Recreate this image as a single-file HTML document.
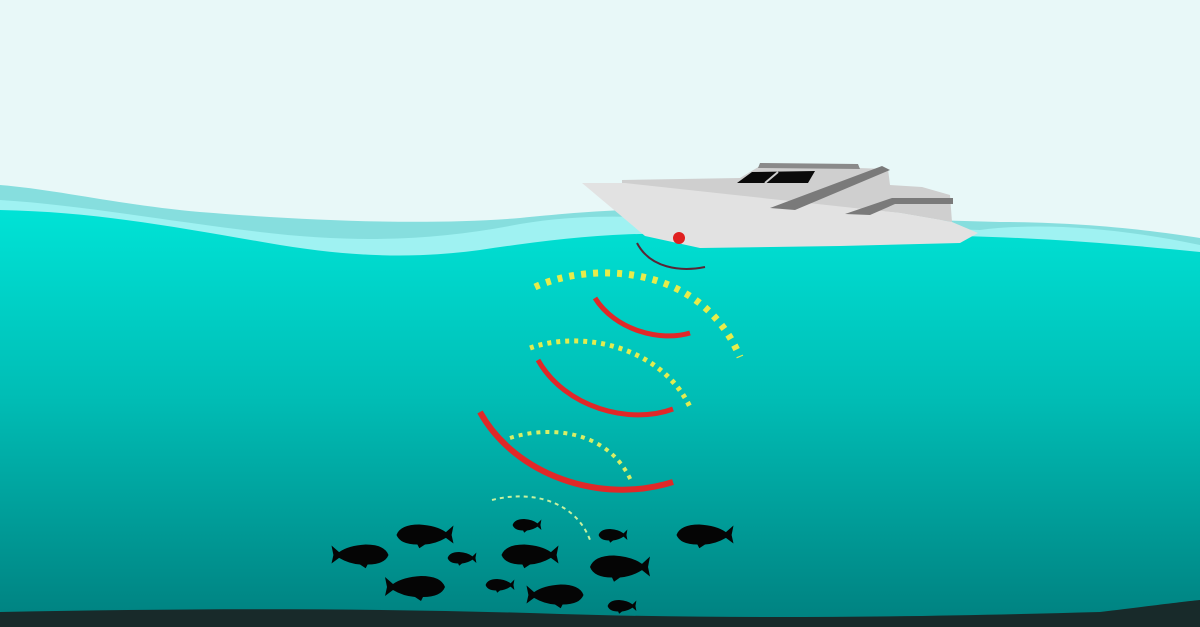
<!DOCTYPE html>
<html><head><meta charset="utf-8"><style>
html,body{margin:0;padding:0;width:1200px;height:627px;overflow:hidden;background:#e8f8f8}
svg{display:block}
</style></head><body>
<svg width="1200" height="627" viewBox="0 0 1200 627">
<defs>
<linearGradient id="water" x1="0" y1="0" x2="0" y2="1">
<stop offset="0" stop-color="#00e3d6"/>
<stop offset="0.45" stop-color="#00bdb5"/>
<stop offset="1" stop-color="#00807f"/>
</linearGradient>
</defs>
<rect x="0" y="0" width="1200" height="627" fill="#e8f8f8"/>
<path fill="#86dede" d="M0,185 C60,190 120,205 200,212 C300,220 420,226 520,218 C600,210 660,206 720,214 L1000,222 C1080,222 1150,230 1200,238 L1200,300 L0,300 Z"/>
<path fill="#9ff2f2" d="M0,200 C80,205 160,220 260,232 C360,244 440,240 520,224 C580,214 640,215 700,222 L980,230 C1040,222 1120,228 1200,245 L1200,300 L0,300 Z"/>
<path fill="url(#water)" d="M0,210 C100,212 180,228 280,245 C360,258 420,258 480,250 C560,238 620,232 690,234 L960,236 C1050,238 1130,245 1200,252 L1200,627 L0,627 Z"/>
<path fill="#182a2a" d="M0,612 C200,608 380,608 560,614 C760,620 950,616 1100,612 C1150,606 1180,602 1200,600 L1200,627 L0,627 Z"/>
<g>
<path fill="#cfcfcf" d="M622,180 L740,178 L760,166 L858,168 L888,169 L890,185 L922,187 L950,195 L952,222 L900,213 L735,196 L622,190 Z"/>
<path fill="#8a8a8a" d="M760,163 L858,164 L860,169 L758,168 Z"/>
<path fill="#0a0a0a" d="M737,183 L752,172 L815,171 L808,183 Z"/>
<path stroke="#cfcfcf" stroke-width="2" d="M765,183 L778,172"/>
<path fill="#e2e2e2" d="M582,183 L625,183 L735,195 L900,213 L952,222 L978,233 L960,243 L840,246 L700,248 L645,236 Z"/>
<path fill="#7a7a7a" d="M770,208 L882,166 L890,170 L795,210 Z"/>
<path fill="#7a7a7a" d="M845,214 L892,198 L953,198 L953,204 L895,204 L870,215 Z"/>
</g>
<circle cx="679" cy="238" r="6" fill="#e02020"/>
<g fill="none" stroke-linecap="butt">
<path stroke="#5a2535" stroke-width="2" d="M637,243 C650,268 680,272 705,267"/>
<path stroke="#e7ec4a" stroke-width="7" stroke-dasharray="5 7" d="M535,287 C590,262 700,262 740,357"/>
<path stroke="#e02828" stroke-width="5" d="M595,298 C615,330 660,342 690,333"/>
<path stroke="#e2ec50" stroke-width="5" stroke-dasharray="4 5" d="M530,348 C580,330 660,345 690,407"/>
<path stroke="#e02828" stroke-width="5" d="M538,360 C565,408 630,425 673,409"/>
<path stroke="#e02828" stroke-width="6" d="M480,412 C515,475 600,505 673,482"/>
<path stroke="#d8ee66" stroke-width="4" stroke-dasharray="4 5" d="M510,438 C550,425 610,430 632,483"/>
<path stroke="#c8f2a0" stroke-width="2" stroke-dasharray="4 4" d="M492,500 C530,490 575,500 590,540"/>
</g>
<defs>
<path id="fish" d="M-30,0 Q-26,-11 -6,-11 Q12,-10 22,-3 L30,-10 L28,0 L30,9 L22,3 Q12,9 0,10 L-6,14 L-8,10 Q-26,10 -30,0 Z"/>
</defs>
<g fill="#050505">
<use href="#fish" transform="translate(360,555) scale(-0.95,0.95)"/>
<use href="#fish" transform="translate(425,535) scale(0.95,0.95)"/>
<use href="#fish" transform="translate(462,558) scale(0.48,0.55)"/>
<use href="#fish" transform="translate(527,525) scale(0.48,0.55)"/>
<use href="#fish" transform="translate(530,555) scale(0.95,0.95)"/>
<use href="#fish" transform="translate(415,587) scale(-1,1)"/>
<use href="#fish" transform="translate(500,585) scale(0.48,0.55)"/>
<use href="#fish" transform="translate(555,595) scale(-0.95,0.95)"/>
<use href="#fish" transform="translate(613,535) scale(0.48,0.55)"/>
<use href="#fish" transform="translate(620,567) scale(1,1.05)"/>
<use href="#fish" transform="translate(622,606) scale(0.48,0.55)"/>
<use href="#fish" transform="translate(705,535) scale(0.95,0.95)"/>
</g>
</svg>
</body></html>
